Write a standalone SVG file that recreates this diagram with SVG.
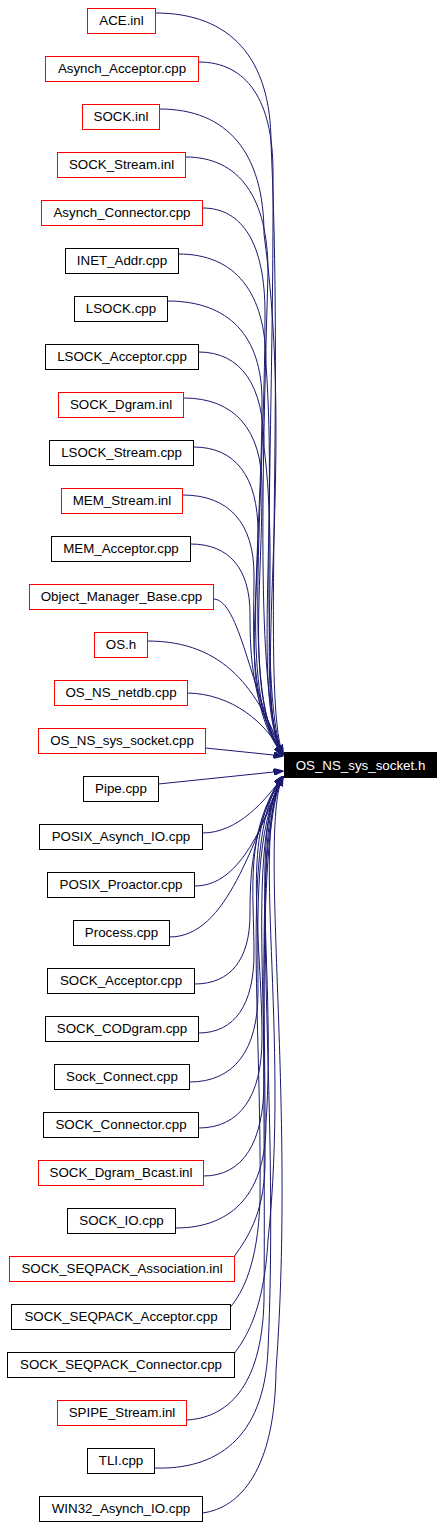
<svg xmlns="http://www.w3.org/2000/svg" width="444" height="1527" viewBox="0 0 444 1527">
<style>
.n rect{fill:#ffffff;stroke:#000000;stroke-width:1}
.n.r rect{stroke:#ff0000}
.n text{font-family:"Liberation Sans",Arial,sans-serif;font-size:13.33px;fill:#000000;text-anchor:middle}
.t rect{fill:#000000;stroke:#000000;stroke-width:1}
.t text{font-family:"Liberation Sans",Arial,sans-serif;font-size:13.33px;fill:#ffffff;text-anchor:middle}
.e path{fill:none;stroke:#191970;stroke-width:1;marker-end:url(#ah)}
</style>
<defs>
<marker id="ah" markerUnits="userSpaceOnUse" viewBox="0 0 10 7" markerWidth="10" markerHeight="7" refX="10" refY="3.5" orient="auto">
<path d="M0,0 L10,3.5 L0,7 z" fill="#191970" stroke="#191970" stroke-width="1"/>
</marker>
</defs>
<rect width="444" height="1527" fill="#ffffff"/>
<g id="connectors" class="e">
<path d="M155.5,13 C230.6,13 271,58.5 271,143 C284,421 262,700 283,755"/>
<path d="M198.5,62 C246.9,62 273,100.5 273,172 C274,436 258,700 283,755"/>
<path d="M159.5,109 C227.4,109 264,152.75 264,234 C296,467 250,700 283,755"/>
<path d="M185.5,157 C239.1,157 268,197.25 268,272 C262,486 256,700 283,755"/>
<path d="M202.5,208 C243.1,208 265,244.75 265,313 C265,506.5 240,700 283,755"/>
<path d="M178.5,254 C235.4,254 266,292.5 266,364 C278,532 252,700 283,755"/>
<path d="M167.5,301 C228.9,301 262,336 262,401 C262,550.5 238,700 283,755"/>
<path d="M198.5,352 C241.1,352 264,385.25 264,447 C280,573.5 256,700 283,755"/>
<path d="M183.5,398 C234.5,398 262,429.5 262,488 C262,594 246,700 283,755"/>
<path d="M193.5,447 C235.4,447 258,476.75 258,532 C258,616 240,700 283,755"/>
<path d="M182.5,495 C229,495 254,523 254,575 C254,637.5 248,700 283,755"/>
<path d="M190.5,544 C229.2,544 250,568.5 250,614 C250,657 252,705 283,755"/>
<path d="M213.5,599 C240,600 250,690 283,755"/>
<path d="M147.5,641 C225,641 258,690 283,755"/>
<path d="M187.5,693 C232,694 266,722 283,755"/>
<path d="M205.5,748 L283.5,756"/>
<path d="M158.5,784 L283.5,771"/>
<path d="M202.5,833 C238,833 266,800 283,776"/>
<path d="M194.5,886 C235,886 258,840 283,776"/>
<path d="M169.5,937 C228,937 252,840 283,776"/>
<path d="M194.5,984 C230.6,984 250,959.5 250,914 C250,872 252,826 283,776"/>
<path d="M198.5,1033 C234.6,1033 254,1005 254,953 C254,891.5 244,830 283,776"/>
<path d="M189.5,1082 C234,1082 258,1050.5 258,992 C258,911 254,830 283,776"/>
<path d="M198.5,1128 C239.8,1128 262,1096.5 262,1038 C262,934 240,830 283,776"/>
<path d="M203.5,1176 C242.8,1176 264,1142.75 264,1081 C264,955.5 252,830 283,776"/>
<path d="M175.5,1228 C234.3,1228 266,1191.25 266,1123 C276,976.5 248,830 283,776"/>
<path d="M234.5,1256 C246,1240 264,1215 265,1165 C266,997.5 256,830 283,776"/>
<path d="M230.5,1307 C242,1293 258,1265 260,1200 C262,1015 240,830 283,776"/>
<path d="M234.5,1353 C246,1338 264,1310 268,1240 C290,1035 250,830 283,776"/>
<path d="M186.5,1420 C225,1418 262,1390 264,1300 C266,1065 256,830 283,776"/>
<path d="M154.5,1468 C215,1470 264,1440 268,1350 C280,1090 246,830 283,776"/>
<path d="M202.5,1513 C240,1508 275,1470 276,1370 C296,1100 258,830 283,776"/>
</g>
<g id="node-OS_NS_sys_socket_h" class="t"><rect x="284.5" y="752.5" width="152" height="25"/><text x="360.5" y="769.5">OS_NS_sys_socket.h</text></g>
<g id="node-ACE_inl" class="n r"><rect x="87.5" y="8.5" width="68" height="25"/><text x="121.5" y="25">ACE.inl</text></g>
<g id="node-Asynch_Acceptor_cpp" class="n r"><rect x="45.5" y="56.5" width="153" height="25"/><text x="122" y="73">Asynch_Acceptor.cpp</text></g>
<g id="node-SOCK_inl" class="n r"><rect x="82.5" y="104.5" width="77" height="25"/><text x="121" y="121">SOCK.inl</text></g>
<g id="node-SOCK_Stream_inl" class="n r"><rect x="57.5" y="152.5" width="128" height="25"/><text x="121.5" y="169">SOCK_Stream.inl</text></g>
<g id="node-Asynch_Connector_cpp" class="n r"><rect x="41.5" y="200.5" width="161" height="25"/><text x="122" y="217">Asynch_Connector.cpp</text></g>
<g id="node-INET_Addr_cpp" class="n"><rect x="65.5" y="248.5" width="113" height="25"/><text x="122" y="265">INET_Addr.cpp</text></g>
<g id="node-LSOCK_cpp" class="n"><rect x="74.5" y="296.5" width="93" height="25"/><text x="121" y="313">LSOCK.cpp</text></g>
<g id="node-LSOCK_Acceptor_cpp" class="n"><rect x="45.5" y="344.5" width="153" height="25"/><text x="122" y="361">LSOCK_Acceptor.cpp</text></g>
<g id="node-SOCK_Dgram_inl" class="n r"><rect x="58.5" y="392.5" width="125" height="25"/><text x="121" y="409">SOCK_Dgram.inl</text></g>
<g id="node-LSOCK_Stream_cpp" class="n"><rect x="49.5" y="440.5" width="144" height="25"/><text x="121.5" y="457">LSOCK_Stream.cpp</text></g>
<g id="node-MEM_Stream_inl" class="n r"><rect x="61.5" y="488.5" width="121" height="25"/><text x="122" y="505">MEM_Stream.inl</text></g>
<g id="node-MEM_Acceptor_cpp" class="n"><rect x="51.5" y="536.5" width="139" height="25"/><text x="121" y="553">MEM_Acceptor.cpp</text></g>
<g id="node-Object_Manager_Base_cpp" class="n r"><rect x="29.5" y="584.5" width="184" height="25"/><text x="121.5" y="601">Object_Manager_Base.cpp</text></g>
<g id="node-OS_h" class="n r"><rect x="94.5" y="632.5" width="53" height="25"/><text x="121" y="649">OS.h</text></g>
<g id="node-OS_NS_netdb_cpp" class="n r"><rect x="54.5" y="680.5" width="133" height="25"/><text x="121" y="697">OS_NS_netdb.cpp</text></g>
<g id="node-OS_NS_sys_socket_cpp" class="n r"><rect x="38.5" y="728.5" width="167" height="25"/><text x="122" y="745">OS_NS_sys_socket.cpp</text></g>
<g id="node-Pipe_cpp" class="n"><rect x="83.5" y="776.5" width="75" height="25"/><text x="121" y="793">Pipe.cpp</text></g>
<g id="node-POSIX_Asynch_IO_cpp" class="n"><rect x="39.5" y="824.5" width="163" height="25"/><text x="121" y="841">POSIX_Asynch_IO.cpp</text></g>
<g id="node-POSIX_Proactor_cpp" class="n"><rect x="47.5" y="872.5" width="147" height="25"/><text x="121" y="889">POSIX_Proactor.cpp</text></g>
<g id="node-Process_cpp" class="n"><rect x="73.5" y="920.5" width="96" height="25"/><text x="121.5" y="937">Process.cpp</text></g>
<g id="node-SOCK_Acceptor_cpp" class="n"><rect x="47.5" y="968.5" width="147" height="25"/><text x="121" y="985">SOCK_Acceptor.cpp</text></g>
<g id="node-SOCK_CODgram_cpp" class="n"><rect x="45.5" y="1016.5" width="153" height="25"/><text x="122" y="1033">SOCK_CODgram.cpp</text></g>
<g id="node-Sock_Connect_cpp" class="n"><rect x="54.5" y="1064.5" width="135" height="25"/><text x="122" y="1081">Sock_Connect.cpp</text></g>
<g id="node-SOCK_Connector_cpp" class="n"><rect x="43.5" y="1112.5" width="155" height="25"/><text x="121" y="1129">SOCK_Connector.cpp</text></g>
<g id="node-SOCK_Dgram_Bcast_inl" class="n r"><rect x="38.5" y="1160.5" width="165" height="25"/><text x="121" y="1177">SOCK_Dgram_Bcast.inl</text></g>
<g id="node-SOCK_IO_cpp" class="n"><rect x="67.5" y="1208.5" width="108" height="25"/><text x="121.5" y="1225">SOCK_IO.cpp</text></g>
<g id="node-SOCK_SEQPACK_Association_inl" class="n r"><rect x="9.5" y="1256.5" width="225" height="25"/><text x="122" y="1273">SOCK_SEQPACK_Association.inl</text></g>
<g id="node-SOCK_SEQPACK_Acceptor_cpp" class="n"><rect x="11.5" y="1304.5" width="219" height="25"/><text x="121" y="1321">SOCK_SEQPACK_Acceptor.cpp</text></g>
<g id="node-SOCK_SEQPACK_Connector_cpp" class="n"><rect x="7.5" y="1352.5" width="227" height="25"/><text x="121" y="1369">SOCK_SEQPACK_Connector.cpp</text></g>
<g id="node-SPIPE_Stream_inl" class="n r"><rect x="57.5" y="1400.5" width="129" height="25"/><text x="122" y="1417">SPIPE_Stream.inl</text></g>
<g id="node-TLI_cpp" class="n"><rect x="87.5" y="1448.5" width="67" height="25"/><text x="121" y="1465">TLI.cpp</text></g>
<g id="node-WIN32_Asynch_IO_cpp" class="n"><rect x="39.5" y="1496.5" width="163" height="25"/><text x="121" y="1513">WIN32_Asynch_IO.cpp</text></g>
</svg>
